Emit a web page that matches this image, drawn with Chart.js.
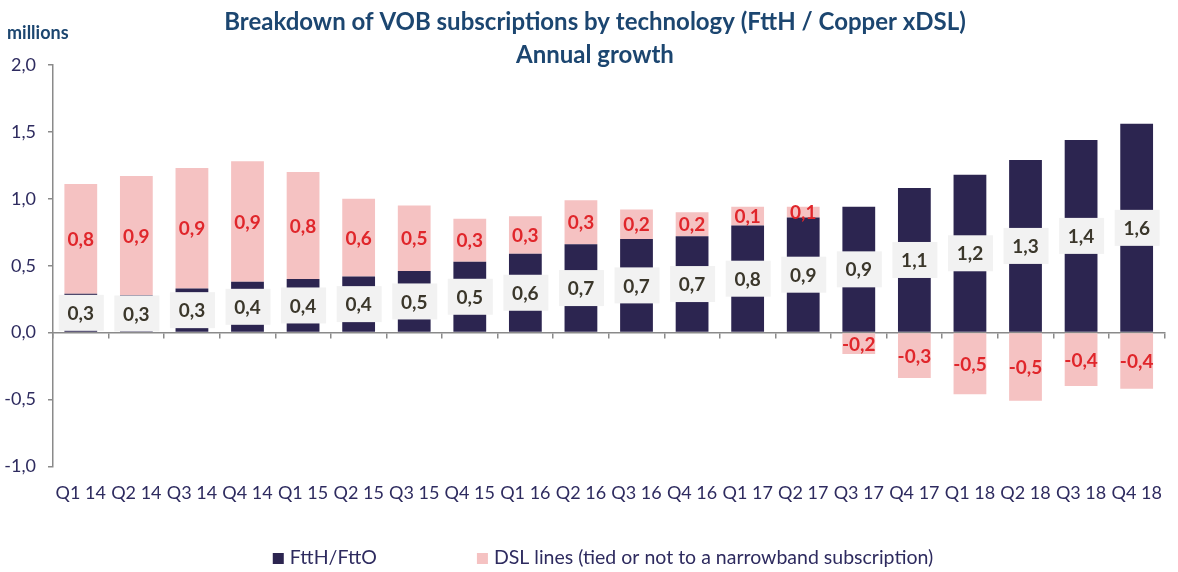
<!DOCTYPE html>
<html>
<head>
<meta charset="utf-8">
<title>VOB subscriptions by technology</title>
<script src="https://cdn.jsdelivr.net/npm/chart.js@4.4.1/dist/chart.umd.min.js"></script>
<style>
  html, body { margin: 0; padding: 0; background: #fff; }
  #wrap { width: 1178px; height: 572px; position: relative; }
</style>
</head>
<body>
<div id="wrap"><canvas id="myChart"></canvas></div>
<script>
// Data (millions)
const quarters = ['Q1 14', 'Q2 14', 'Q3 14', 'Q4 14', 'Q1 15', 'Q2 15', 'Q3 15', 'Q4 15', 'Q1 16', 'Q2 16',
                  'Q3 16', 'Q4 16', 'Q1 17', 'Q2 17', 'Q3 17', 'Q4 17', 'Q1 18', 'Q2 18', 'Q3 18', 'Q4 18']
const ftth = [0.29, 0.28, 0.33, 0.38, 0.40, 0.42, 0.46, 0.53, 0.59, 0.66,
              0.70, 0.72, 0.80, 0.86, 0.94, 1.08, 1.18, 1.29, 1.44, 1.56]
const dsl = [0.82, 0.89, 0.90, 0.90, 0.80, 0.58, 0.49, 0.32, 0.28, 0.33,
             0.22, 0.18, 0.14, 0.08, -0.16, -0.34, -0.46, -0.51, -0.40, -0.42]
const seriesNames = ['FttH/FttO', 'DSL lines (tied or not to a narrowband subscription)']
const titleLines = ['Breakdown of VOB subscriptions by technology (FttH / Copper xDSL)', 'Annual growth']
const unitLabel = 'millions'

const FONT = 'Lato, "Open Sans", sans-serif'
const navy = '#2e2b5f'
const titleBlue = '#1c4670'
const axisGray = '#8a8a8a'

function fmt(v) {
    return v.toFixed(1).replace('.', ',')
}

// title + unit text
const titlePlugin = {
    id: 'titles',
    afterDraw(chart) {
        const ctx = chart.ctx
        ctx.save()
        ctx.fillStyle = titleBlue
        ctx.textAlign = 'center'
        ctx.textBaseline = 'middle'
        ctx.font = `bold 24px ${FONT}`
        ctx.fillText(titleLines[0], 595, 22)
        ctx.fillText(titleLines[1], 595, 55)
        ctx.textAlign = 'left'
        ctx.font = `bold 18px ${FONT}`
        ctx.fillText(unitLabel, 7, 33)
        ctx.restore()
    }
}

// value labels on the bars
const labelPlugin = {
    id: 'barLabels',
    afterDatasetsDraw(chart) {
        const ctx = chart.ctx
        ctx.save()
        ctx.textAlign = 'center'
        ctx.textBaseline = 'middle'
        ctx.font = `bold 19px ${FONT}`
        chart.data.datasets.forEach((ds, di) => {
            const meta = chart.getDatasetMeta(di)
            meta.data.forEach((bar, i) => {
                const txt = fmt(ds.data[i])
                const cy = (bar.y + bar.base) / 2
                if (di === 0) {
                    ctx.fillStyle = '#f2f2f2'
                    ctx.fillRect(bar.x - 22, cy - 18, 45, 36)
                    ctx.fillStyle = '#3b372b'
                    ctx.fillText(txt, bar.x, cy + 1)
                } else {
                    ctx.fillStyle = '#e0262b'
                    ctx.fillText(txt, bar.x, cy + 1)
                }
            })
        })
        ctx.restore()
    }
}

// legend at the bottom
const legendPlugin = {
    id: 'bottomLegend',
    afterDraw(chart) {
        const ctx = chart.ctx
        ctx.save()
        ctx.font = `19.5px ${FONT}`
        ctx.textBaseline = 'middle'
        const items = chart.data.datasets.map(d => ({ text: d.label, color: d.backgroundColor }))
        const widths = items.map(it => 11 + 6 + ctx.measureText(it.text).width)
        const gap = 100
        const total = widths.reduce((a, b) => a + b, 0) + gap * (items.length - 1)
        let x = 603 - total / 2
        const y = 558
        items.forEach((it, i) => {
            ctx.fillStyle = it.color
            ctx.fillRect(x, y - 5, 11, 11)
            ctx.fillStyle = navy
            ctx.fillText(it.text, x + 17, y)
            x += widths[i] + gap
        })
        ctx.restore()
    }
}

const canvas = document.getElementById('myChart')

var data = {
    labels: quarters,
    datasets: [
        {
            label: seriesNames[0],
            data: ftth,
            backgroundColor: '#2c2550',
            barPercentage: 0.59,
            categoryPercentage: 1
        },
        {
            label: seriesNames[1],
            data: dsl,
            backgroundColor: '#f5c2c2',
            barPercentage: 0.59,
            categoryPercentage: 1
        }
    ]
}

var options = {
    responsive: true,
    maintainAspectRatio: false,
    animation: false,
    layout: {
        padding: { top: 65, right: 7, bottom: 52, left: 0 }
    },
    plugins: {
        legend: { display: false },
        title: { display: false },
        tooltip: { enabled: false }
    },
    scales: {
        x: {
            stacked: true,
            grid: { display: false, drawTicks: false },
            border: { display: false },
            ticks: { color: navy, font: { family: FONT, size: 18 }, padding: 16, maxRotation: 0, autoSkip: false }
        },
        x2: {
            type: 'category',
            position: { y: 0 },
            offset: true,
            grid: { offset: true, drawOnChartArea: false, drawTicks: true, tickLength: 5, color: axisGray, lineWidth: 1.5 },
            border: { display: true, color: axisGray, width: 1.5 },
            ticks: { display: false }
        },
        y: {
            stacked: true,
            min: -1,
            max: 2,
            ticks: {
                stepSize: 0.5,
                color: navy,
                font: { family: FONT, size: 18 },
                padding: 12,
                callback: v => fmt(v)
            },
            grid: { drawOnChartArea: false, drawTicks: true, tickLength: 5, color: axisGray, lineWidth: 1.5 },
            border: { display: true, color: axisGray, width: 1.5 },
            afterFit: s => { s.width = 53 }
        }
    }
}

var myChart = new Chart(canvas, {
    type: 'bar',
    data: data,
    options: options,
    plugins: [labelPlugin, titlePlugin, legendPlugin]
})
</script>
</body>
</html>
